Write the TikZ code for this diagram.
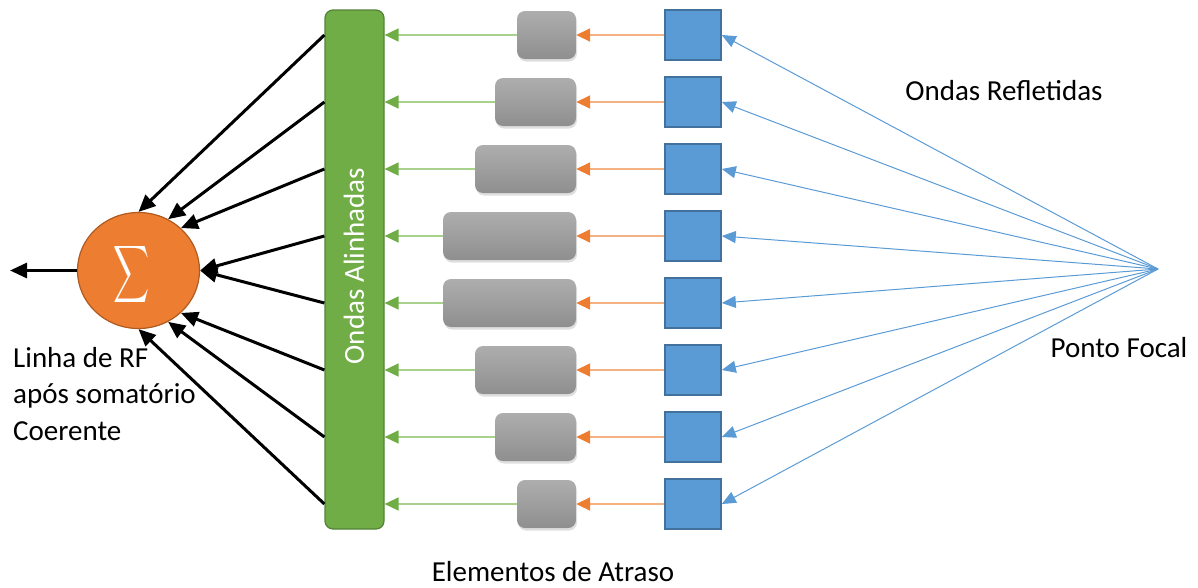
\documentclass[tikz,border=0pt]{standalone}
\usepackage{fontspec}
\setmainfont{Carlito}
\usetikzlibrary{arrows.meta,shapes.geometric,shadows}
\definecolor{cblue}{HTML}{5B9BD5}
\definecolor{cbluedk}{HTML}{41719C}
\definecolor{cgreen}{HTML}{70AD47}
\definecolor{cgreendk}{HTML}{548235}
\definecolor{cgreenlt}{HTML}{A9D18E}
\definecolor{corange}{HTML}{ED7D31}
\definecolor{corangedk}{HTML}{AE5A21}
\definecolor{corangelt}{HTML}{F4B183}
\tikzset{
  sq/.style={draw=cbluedk, line width=1.6pt, fill=cblue, minimum width=56pt, minimum height=50pt, inner sep=0pt},
  gbox/.style={rounded corners=8pt, top color=black!32, bottom color=black!44, minimum height=48pt, inner sep=0pt,
    drop shadow={opacity=0.25, shadow xshift=1pt, shadow yshift=-2.5pt}},
  bar/.style={draw=cgreendk, line width=1.2pt, fill=cgreen, rounded corners=8pt, minimum width=59pt, minimum height=519pt, inner sep=0pt},
  sumc/.style={ellipse, draw=corangedk, line width=1.2pt, fill=corange, minimum width=122pt, minimum height=116pt, inner sep=0pt, text=white},
  barr/.style={line width=3pt, -{Triangle[length=17pt,width=15pt]}},
  oarr/.style={draw=corangelt, line width=1.8pt, -{Triangle[length=14pt,width=13pt,color=corange]}},
  garr/.style={draw=cgreenlt, line width=1.6pt, -{Triangle[length=14pt,width=13pt,color=cgreen]}},
  blarr/.style={draw=cblue, line width=1pt, -{Triangle[length=14pt,width=12pt]}},
  lbl/.style={font=\fontsize{29}{35}\selectfont, inner sep=0pt},
}
\begin{document}
\begin{tikzpicture}[x=1pt,y=-1pt]
\useasboundingbox (0,0) rectangle (1198,587);
\node[bar] (bar) at (354.5,269.5) {};
\node[lbl, rotate=90, text=white] (barlbl) at (354,266) {Ondas Alinhadas};
\node[sumc] (sig) at (138.5,270.5) {};
\node[text=white, inner sep=0pt] (sigsym) at (132,274.5) {\scalebox{2.5}[4]{$\displaystyle\sum$}};
\coordinate (fp) at (1158,269);
\coordinate (out) at (10,270.5);
\foreach \y/\w/\a [count=\i] in {35/59/90,102/81/60,169/101/45,236/133/0,303/133/0,370/101/-45,437/81/-60,504/59/-90}{
  \node[sq] (s\i) at (693,\y) {};
  \node[gbox, minimum width=\w pt] (d\i) at ({576-\w/2},\y) {};
  \draw[oarr] (s\i.west) -- (d\i.east);
  \draw[garr] (d\i.west) -- (bar.east |- d\i.west);
  \draw[blarr] (fp) -- (s\i.east);
  \draw[barr] (bar.west |- d\i.west) -- (sig.\a);
}
\draw[barr] (sig.west) -- (out);
\node[lbl, anchor=base] (refl) at (1004,100) {Ondas Refletidas};
\node[lbl, anchor=base] (foc) at (1119,357) {Ponto Focal};
\node[lbl, anchor=base] (atr) at (553,581) {Elementos de Atraso};
\node[lbl, anchor=base west] (rf1) at (13,367) {Linha de RF};
\node[lbl, anchor=base west] (rf2) at (13,403.5) {após somatório};
\node[lbl, anchor=base west] (rf3) at (13,440) {Coerente};
\end{tikzpicture}
\end{document}
